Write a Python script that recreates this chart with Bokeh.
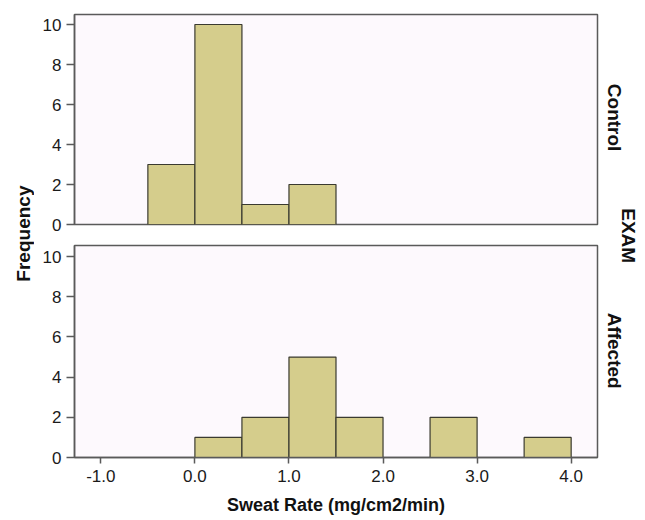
import math
from bokeh.plotting import figure
from bokeh.models import Range1d, FixedTicker, Label
from bokeh.layouts import row, column
from bokeh.embed import file_html
from bokeh.resources import INLINE

# ---- data ----
bin_width = 0.5
control_left = [-0.5, 0.0, 0.5, 1.0]
control_counts = [3, 10, 1, 2]
affected_left = [0.0, 0.5, 1.0, 1.5, 2.5, 3.5]
affected_counts = [1, 2, 5, 2, 2, 1]
y_ticks = [0, 2, 4, 6, 8, 10]
x_ticks = [-1, 0, 1, 2, 3, 4]
x_tick_labels = ["-1.0", "0.0", "1.0", "2.0", "3.0", "4.0"]
panel_names = ["Control", "Affected"]
facet_title = "EXAM"
x_title = "Sweat Rate (mg/cm2/min)"
y_title = "Frequency"

FONT = "Liberation Sans"
BAR_FILL = "#D5CD8C"
BAR_LINE = "#3a3a30"
BG = "#FDF9FD"
FRAME = "#5a5a5a"
TOTAL_H = 518

x_range = Range1d(-1.28, 4.28)


def make_panel(lefts, counts, height, y_top, top_b, bottom_b, show_x):
    p = figure(width=568, height=height, x_range=x_range,
               y_range=Range1d(0, y_top), output_backend="svg",
               toolbar_location=None, min_border_left=40,
               min_border_right=5, min_border_top=top_b,
               min_border_bottom=bottom_b)
    p.background_fill_color = BG
    p.border_fill_color = "white"
    p.outline_line_color = FRAME
    p.outline_line_width = 1.5
    p.grid.visible = False
    rights = [l + bin_width for l in lefts]
    p.quad(left=lefts, right=rights, bottom=0, top=counts,
           fill_color=BAR_FILL, line_color=BAR_LINE, line_width=1.2)
    ya = p.yaxis[0]
    ya.ticker = FixedTicker(ticks=y_ticks)
    ya.minor_tick_line_color = None
    ya.major_tick_out = 8
    ya.major_tick_in = 0
    ya.axis_line_color = FRAME
    ya.axis_line_width = 1.5
    ya.major_tick_line_color = FRAME
    ya.major_tick_line_width = 1.5
    ya.major_label_text_font = FONT
    ya.major_label_text_font_size = "17px"
    ya.major_label_text_color = "#1a1a1a"
    ya.major_label_standoff = 5
    xa = p.xaxis[0]
    if show_x:
        xa.ticker = FixedTicker(ticks=x_ticks)
        xa.major_label_overrides = {t: s for t, s in zip(x_ticks, x_tick_labels)}
        xa.minor_tick_line_color = None
        xa.major_tick_out = 6
        xa.major_tick_in = 0
        xa.axis_line_color = FRAME
        xa.axis_line_width = 1.5
        xa.major_tick_line_color = FRAME
        xa.major_tick_line_width = 1.5
        xa.major_label_text_font = FONT
        xa.major_label_text_font_size = "17px"
        xa.major_label_text_color = "#1a1a1a"
        xa.major_label_standoff = 6
        xa.axis_label = x_title
        xa.axis_label_text_font = FONT
        xa.axis_label_text_font_size = "18px"
        xa.axis_label_text_font_style = "bold"
        xa.axis_label_text_color = "#111111"
        xa.axis_label_standoff = 10
    else:
        xa.visible = False
    return p


p_top = make_panel(control_left, control_counts, 235, 10.5, 14, 11, False)
p_bot = make_panel(affected_left, affected_counts, TOTAL_H - 235, 10.55, 10, 61, True)


def label_fig(width):
    f = figure(width=width, height=TOTAL_H, x_range=Range1d(0, 1),
               y_range=Range1d(0, 1), output_backend="svg",
               toolbar_location=None, min_border=0)
    f.axis.visible = False
    f.grid.visible = False
    f.outline_line_color = None
    f.background_fill_color = "white"
    f.border_fill_color = "white"
    return f


def side_label(f, x, y, text, angle):
    f.add_layout(Label(x=x, y=y, text=text, angle=angle,
                       text_align="center", text_baseline="middle",
                       text_font=FONT, text_font_size="19px",
                       text_font_style="bold", text_color="#111111"))


left = label_fig(34)
side_label(left, 0.69, 0.55, y_title, math.pi / 2)

right = label_fig(40)
side_label(right, 0.3, 0.774, panel_names[0], -math.pi / 2)
side_label(right, 0.3, 0.324, panel_names[1], -math.pi / 2)
side_label(right, 0.66, 0.546, facet_title, -math.pi / 2)

layout = row(left, column(p_top, p_bot, spacing=0), right, spacing=0)

open("out.html", "w").write(file_html(layout, INLINE))
